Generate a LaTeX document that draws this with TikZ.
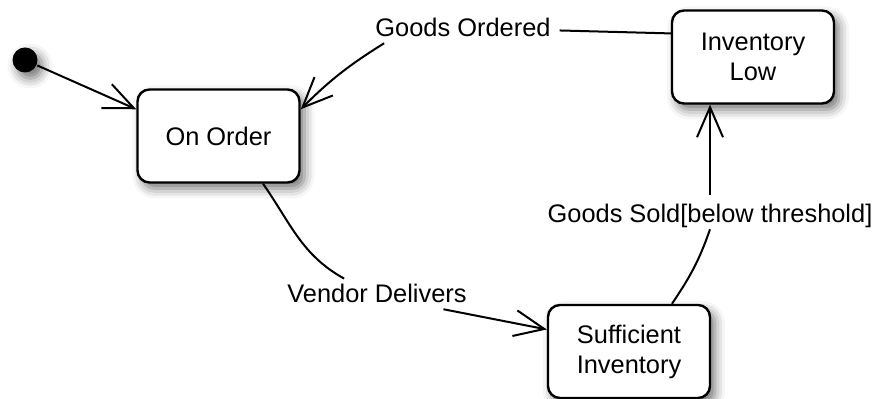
\documentclass[tikz,border=0pt]{standalone}
\usepackage{fontspec}
\setmainfont{Liberation Sans}
\usepackage{tikz}
\usetikzlibrary{arrows.meta,shadows.blur,positioning,calc}
\tikzset{
    x=0.5pt,y=0.5pt,
    state/.style ={rectangle, rounded corners=6pt, draw, line width=1.2pt, fill=white,
        minimum width=81pt, minimum height=46.5pt, align=center,
        blur shadow={shadow xshift=2.5pt, shadow yshift=-3pt, shadow blur radius=5pt, shadow opacity=55}},
    startdot/.style = {circle, fill, inner sep=0pt, minimum size=12.5pt,
        blur shadow={shadow xshift=2.5pt, shadow yshift=-3pt, shadow blur radius=5pt, shadow opacity=55}},
    trans/.style = {anchor=base, inner sep=2.5pt, inner xsep=4pt},
    arr/.style = {-{Straight Barb[length=15pt,width=13pt]}},
    every node/.style = {font=\fontsize{12.7}{15}\selectfont}
}

\begin{document}
\begin{tikzpicture}[line width=1pt]
            \useasboundingbox (0,0) rectangle (877,-399);
            \node[startdot] (init) at (25,-60) {};
            \node[state] (onorder) at (218.5,-136) {On Order};
            \node[state] (invlow)  at (753,-57) {Inventory\\Low};
            \node[state] (suffinv) at (629,-351.5) {Sufficient\\Inventory};
            % Label the transitions
            \node[trans] (lblGO) at (463,-37) {Goods Ordered};
            \node[trans] (lblVD) at (377,-303) {Vendor Delivers};
            \node[trans,inner sep=0pt] (lblGS) at (710,-223) {Goods Sold[below threshold]};
            % Draw the transitions
            \draw[arr] (init) -- (onorder.162);
            \draw (invlow.164) -- (lblGO);
            \draw[arr] (lblGO.191) to[out=212,in=45] (onorder.18);
            \draw (onorder.313) to[out=305,in=151] (lblVD.155);
            \draw[arr] (lblVD.-13) -- (suffinv.165);
            \draw (suffinv.48) to[out=56,in=251] (lblGS.south);
            \draw[arr] ([yshift=4.5pt]lblGS.north) -- (lblGS.north |- invlow.south);
        \end{tikzpicture}
\end{document}
